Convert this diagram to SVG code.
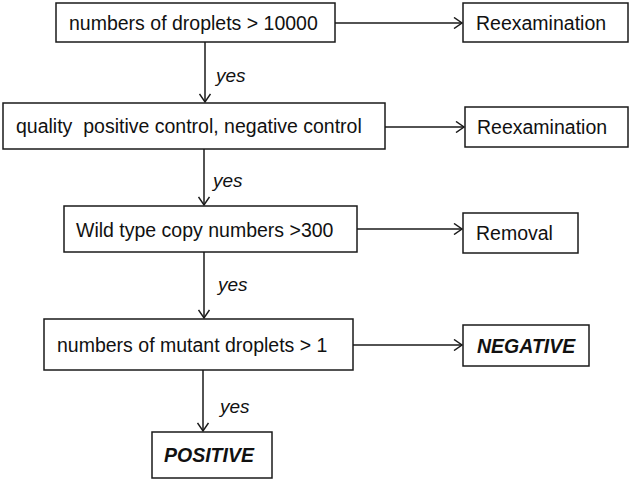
<svg xmlns="http://www.w3.org/2000/svg" width="630" height="481" viewBox="0 0 630 481">
<style>
.box{fill:#fff;stroke:#1a1a1a;stroke-width:1.5}
.t{font-family:"Liberation Sans",Arial,sans-serif;font-size:19.5px;fill:#111}
.b{font-weight:bold;font-style:italic}
.y{font-family:"Liberation Sans",Arial,sans-serif;font-size:19px;font-style:italic;fill:#111}
.c{fill:none;stroke:#1a1a1a;stroke-width:1.5}
</style>
<defs>
<marker id="ah" markerWidth="12" markerHeight="12" refX="10" refY="6" orient="auto" markerUnits="userSpaceOnUse">
<path d="M2,0.5 L10,6 L2,11.5" fill="none" stroke="#1a1a1a" stroke-width="1.5"/>
</marker>
</defs>
<rect width="630" height="481" fill="#fff"/>
<g id="connectors">
<line class="c" x1="335" y1="23" x2="462" y2="23" marker-end="url(#ah)"/>
<line class="c" x1="205" y1="42" x2="205" y2="102" marker-end="url(#ah)"/>
<line class="c" x1="385" y1="127" x2="464" y2="127" marker-end="url(#ah)"/>
<line class="c" x1="204" y1="149" x2="204" y2="205" marker-end="url(#ah)"/>
<line class="c" x1="357" y1="229" x2="462" y2="229" marker-end="url(#ah)"/>
<line class="c" x1="204" y1="252" x2="204" y2="318" marker-end="url(#ah)"/>
<line class="c" x1="353" y1="345" x2="462" y2="345" marker-end="url(#ah)"/>
<line class="c" x1="203" y1="370" x2="203" y2="431" marker-end="url(#ah)"/>
<text class="y" x="216" y="82">yes</text>
<text class="y" x="213" y="187">yes</text>
<text class="y" x="218" y="291">yes</text>
<text class="y" x="220" y="413">yes</text>
</g>
<g id="n1"><rect class="box" x="56" y="3" width="279" height="39"/><text class="t" x="69" y="29.5">numbers of droplets &gt; 10000</text></g>
<g id="n1r"><rect class="box" x="463" y="3" width="165" height="39"/><text class="t" x="476" y="29.5">Reexamination</text></g>
<g id="n2"><rect class="box" x="3" y="103" width="382" height="46"/><text class="t" x="16" y="133" xml:space="preserve">quality  positive control, negative control</text></g>
<g id="n2r"><rect class="box" x="465" y="107" width="163" height="40"/><text class="t" x="477" y="134">Reexamination</text></g>
<g id="n3"><rect class="box" x="64" y="206" width="293" height="46"/><text class="t" x="76" y="237">Wild type copy numbers &gt;300</text></g>
<g id="n3r"><rect class="box" x="463" y="213" width="115" height="40"/><text class="t" x="476" y="240">Removal</text></g>
<g id="n4"><rect class="box" x="44" y="319" width="309" height="51"/><text class="t" x="57" y="352">numbers of mutant droplets &gt; 1</text></g>
<g id="n4r"><rect class="box" x="463" y="325" width="126" height="41"/><text class="t b" x="477" y="353">NEGATIVE</text></g>
<g id="n5"><rect class="box" x="152" y="432" width="120" height="46"/><text class="t b" x="164" y="462">POSITIVE</text></g>
</svg>
